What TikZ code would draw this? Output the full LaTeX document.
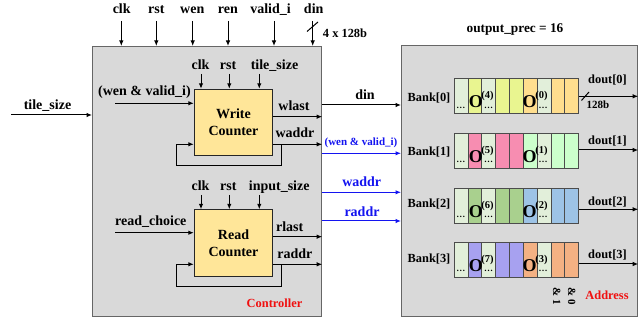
\documentclass[tikz,border=0pt]{standalone}
\usepackage{fontspec}
\setmainfont{Liberation Serif}
\usetikzlibrary{arrows.meta}
\definecolor{ctrlfill}{HTML}{D9D9D9}
\definecolor{boxedge}{HTML}{666666}
\definecolor{cntfill}{HTML}{FFE699}
\definecolor{sigblue}{HTML}{1414F0}
\definecolor{labred}{HTML}{F01010}
\definecolor{cL0}{HTML}{E2EFDA}
\definecolor{cL1}{HTML}{E2EFDA}
\definecolor{cL2}{HTML}{E2EFDA}
\definecolor{cL3}{HTML}{E2EFDA}
\definecolor{cA0}{HTML}{E9F590}
\definecolor{cB0}{HTML}{FFDE8E}
\definecolor{cA1}{HTML}{F78DB1}
\definecolor{cB1}{HTML}{CCFFCC}
\definecolor{cA2}{HTML}{A9D08E}
\definecolor{cB2}{HTML}{9DC3E6}
\definecolor{cA3}{HTML}{A7A1F0}
\definecolor{cB3}{HTML}{F4B183}
\begin{document}
\begin{tikzpicture}[x=1pt,y=-1pt,
  arr/.style={-{Latex[length=5.5pt,width=4.5pt]},line width=1pt},
  barr/.style={arr,draw=sigblue},
  fb/.style={font=\bfseries\fontsize{14}{16}\selectfont,inner sep=0pt,anchor=base},
  fm/.style={font=\bfseries\fontsize{12.4}{14}\selectfont,inner sep=0pt,anchor=base},
  fs/.style={font=\bfseries\fontsize{11}{13}\selectfont,inner sep=0pt,anchor=base},
  blk/.style={draw=boxedge,fill=ctrlfill,line width=1.2pt,inner sep=0pt,anchor=north west},
  cnt/.style={draw=black!85,fill=cntfill,line width=1pt,inner sep=0pt,align=center,
    font=\bfseries\fontsize{14}{16.6}\selectfont,minimum width=78.4,minimum height=66.4},
  cell/.style={draw=black!70,line width=0.6pt,inner sep=0pt,minimum width=13.85,minimum height=35.5},
  bigO/.style={font=\bfseries\fontsize{18}{20}\selectfont,inner sep=0pt,anchor=base},
  supx/.style={font=\bfseries\fontsize{10.5}{12}\selectfont,inner sep=0pt},
  dts/.style={font=\bfseries\fontsize{9}{10}\selectfont,inner sep=0pt,anchor=base},
  rot/.style={font=\bfseries\fontsize{11}{13}\selectfont,inner sep=0pt,rotate=-90},
]
\useasboundingbox (0,0) rectangle (641,320);

% main blocks
\node[blk,minimum width=229,minimum height=270] (ctrl) at (92,46) {};
\node[blk,minimum width=236,minimum height=271] (mem) at (401,45) {};
\node[cnt] (wc) at (233.5,122.5) {Write\\Counter};
\node[cnt] (rc) at (233.5,243) {Read\\Counter};

% top inputs
\foreach \n/\x/\lx/\t in {clk/121.3/121.7/clk, rst/156.3/156.3/rst, wen/192.7/192.3/wen,
    ren/228/227.8/ren, vld/274/270.5/valid\_i, din/312.7/313.7/din} {
  \node[fb] (t\n) at (\lx,14) {\t};
  \coordinate (s\n) at (\x,21);
  \draw[arr] (s\n) -- (s\n |- ctrl.north);
}
\coordinate (dsl1) at (307,31.5);
\coordinate (dsl2) at (318,22);
\draw[line width=1pt] (dsl1) -- (dsl2);
\node[fm] (dinw) at (345,37.5) {4 x 128b};

% tile_size input
\node[fb] (tsz) at (47.5,110) {tile\_size};
\coordinate (tsz0) at (11,115);
\draw[arr] (tsz0) -- (tsz0 -| ctrl.west);

% write counter inputs
\foreach \n/\x/\lx/\t in {wclk/201/200.5/clk, wrst/229.3/228/rst, wtsz/259.3/274.5/tile\_size} {
  \node[fb] (\n) at (\lx,70) {\t};
  \coordinate (\n0) at (\x,74);
  \draw[arr] (\n0) -- (\n0 |- wc.north);
}
% read counter inputs
\foreach \n/\x/\lx/\t in {rclk/201/200.5/clk, rrst/229.3/228.3/rst, rinsz/259.3/279.2/input\_size} {
  \node[fb] (\n) at (\lx,190.5) {\t};
  \coordinate (\n0) at (\x,195);
  \draw[arr] (\n0) -- (\n0 |- rc.north);
}

\node[fb] (wvl) at (144.5,96) {(wen \& valid\_i)};
\coordinate (wvl0) at (115,103.3);
\draw[arr] (wvl0) -- (wvl0 -| wc.west);
\node[fb] (rch) at (150.8,226) {read\_choice};
\coordinate (rch0) at (115,232.7);
\draw[arr] (rch0) -- (rch0 -| rc.west);

% write counter outputs
\node[fb] (wlastl) at (294,111) {wlast};
\draw[arr] (wc.east |- 0,116.7) -- (ctrl.east |- 0,116.7);
\node[fb] (waddrl) at (295,138) {waddr};
\draw[arr] (wc.east |- 0,144.3) -- (ctrl.east |- 0,144.3);
\coordinate (wfb) at (281.7,144.3);
\draw[arr] (wfb) -- (281.7,166) -| (176.7,144.3) -- (wc.west |- wfb);

% read counter outputs
\node[fb] (rlastl) at (289.7,231.5) {rlast};
\draw[arr] (rc.east |- 0,236.7) -- (ctrl.east |- 0,236.7);
\node[fb] (raddrl) at (294.8,258.5) {raddr};
\draw[arr] (rc.east |- 0,264.3) -- (ctrl.east |- 0,264.3);
\coordinate (rfb) at (281.7,264.3);
\draw[arr] (rfb) -- (281.7,287) -| (176.7,264.3) -- (rc.west |- rfb);

\node[fm,text=labred] (ctrll) at (274.5,308) {Controller};

% links between blocks
\node[fb] (dinl) at (365,100) {din};
\draw[arr] (ctrl.east |- 0,105) -- (mem.west |- 0,105);
\node[fs,text=sigblue] (wvb) at (361,146) {(wen \& valid\_i)};
\draw[barr] (ctrl.east |- 0,153.3) -- (mem.west |- 0,153.3);
\node[fb,text=sigblue] (wab) at (361.7,187) {waddr};
\draw[barr] (ctrl.east |- 0,192.3) -- (mem.west |- 0,192.3);
\node[fb,text=sigblue] (rab) at (362,216.5) {raddr};
\draw[barr] (ctrl.east |- 0,221) -- (mem.west |- 0,221);

\node[font=\bfseries\fontsize{13.3}{15}\selectfont,inner sep=0pt,anchor=base] (oprec) at (515,33) {output\_prec = 16};

% banks
\foreach \b/\ty/\sa/\sb/\bl/\ay/\dl in {0/78.3/4/0/102/96.3/84, 1/133/5/1/156/150/144.5,
    2/188/6/2/208/209.3/206, 3/242/7/3/263/264/259} {
  \foreach \i/\c in {0/L,1/A,2/L,3/A,4/A,5/B,6/L,7/B,8/B} {
    \node[cell,fill=c\c\b] (b\b-\i) at ({460.9+13.85*\i},{\ty+17.75}) {};
  }
  \node[dts] (dA\b) at (460.9,{\ty+30}) {\dots};
  \node[bigO] (oA\b) at (475.8,{\ty+29.3}) {O};
  \node[supx] (sA\b) at (487.4,{\ty+17.5}) {(\sa)};
  \node[dts] (dB\b) at (488.6,{\ty+30}) {\dots};
  \node[bigO] (oB\b) at (529.6,{\ty+29.3}) {O};
  \node[supx] (sB\b) at (541.4,{\ty+17.5}) {(\sb)};
  \node[dts] (dC\b) at (543,{\ty+30}) {\dots};
  \node[fm] (bk\b) at (429,\bl) {Bank[\b]};
  \draw[arr] (b\b-8.east |- 0,\ay) -- (mem.east |- 0,\ay);
  \node[fm] (do\b) at (607.5,\dl) {dout[\b]};
}
\coordinate (osl1) at (581.5,100.5);
\coordinate (osl2) at (589,92);
\draw[line width=1pt] (osl1) -- (osl2);
\node[fs] (w128) at (598,108.3) {128b};

\node[rot] (am1) at (556.7,296) {\& 1};
\node[rot] (am0) at (571.7,296) {\& 0};
\node[fm,text=labred] (addrl) at (607,300) {Address};
\end{tikzpicture}
\end{document}
